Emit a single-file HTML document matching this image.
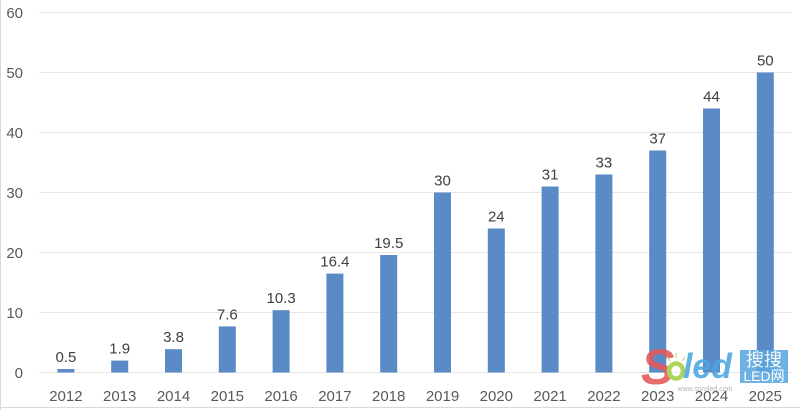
<!DOCTYPE html>
<html><head><meta charset="utf-8"><style>
html,body{margin:0;padding:0;background:#fff;}
svg{display:block;}
text{font-family:"Liberation Sans",sans-serif;}
</style></head><body>
<svg width="800" height="410" viewBox="0 0 800 410" xmlns="http://www.w3.org/2000/svg">
<rect x="0" y="0" width="800" height="410" fill="#fff"/>
<line x1="0.5" y1="0" x2="0.5" y2="410" stroke="#d9d9d9" stroke-width="1"/>
<line x1="0" y1="407.5" x2="800" y2="407.5" stroke="#d9d9d9" stroke-width="1"/>
<g stroke="#e6e6e6" stroke-width="1">
<line x1="39" y1="12.5" x2="792" y2="12.5"/>
<line x1="39" y1="72.5" x2="792" y2="72.5"/>
<line x1="39" y1="132.5" x2="792" y2="132.5"/>
<line x1="39" y1="192.5" x2="792" y2="192.5"/>
<line x1="39" y1="252.5" x2="792" y2="252.5"/>
<line x1="39" y1="312.5" x2="792" y2="312.5"/>
<line x1="39" y1="372.5" x2="792" y2="372.5"/>
</g>
<g fill="#595959" font-size="15" text-anchor="end">
<text x="23" y="18">60</text>
<text x="23" y="78">50</text>
<text x="23" y="138">40</text>
<text x="23" y="198">30</text>
<text x="23" y="258">20</text>
<text x="23" y="318">10</text>
<text x="23" y="378">0</text>
</g>
<g fill="#5a8bc6">
<rect x="57.4" y="369" width="17" height="3.5"/>
<rect x="111.2" y="360.6" width="17" height="11.9"/>
<rect x="165" y="349.2" width="17" height="23.3"/>
<rect x="218.8" y="326.4" width="17" height="46.1"/>
<rect x="272.6" y="310.2" width="17" height="62.3"/>
<rect x="326.4" y="273.6" width="17" height="98.9"/>
<rect x="380.2" y="255" width="17" height="117.5"/>
<rect x="434" y="192.5" width="17" height="180"/>
<rect x="487.8" y="228.5" width="17" height="144"/>
<rect x="541.6" y="186.5" width="17" height="186"/>
<rect x="595.4" y="174.5" width="17" height="198"/>
<rect x="649.2" y="150.5" width="17" height="222"/>
<rect x="703" y="108.5" width="17" height="264"/>
<rect x="756.8" y="72.5" width="17" height="300"/>
</g>
<g fill="#404040" font-size="15" text-anchor="middle">
<text x="65.9" y="362">0.5</text>
<text x="119.7" y="353.6">1.9</text>
<text x="173.5" y="342.2">3.8</text>
<text x="227.3" y="319.4">7.6</text>
<text x="281.1" y="303.2">10.3</text>
<text x="334.9" y="266.6">16.4</text>
<text x="388.7" y="248">19.5</text>
<text x="442.5" y="185.5">30</text>
<text x="496.3" y="221.5">24</text>
<text x="550.1" y="179.5">31</text>
<text x="603.9" y="167.5">33</text>
<text x="657.7" y="143.5">37</text>
<text x="711.5" y="101.5">44</text>
<text x="765.3" y="65.5">50</text>
</g>
<!-- watermark -->
<g opacity="0.88">
<text x="641" y="384" font-size="50" font-style="italic" font-weight="bold" fill="#e35a5a">S</text>
<g stroke="#c8e07a" stroke-width="1.5">
<line x1="676" y1="353" x2="676" y2="358"/>
<line x1="667" y1="357" x2="670" y2="361"/>
<line x1="685" y1="357" x2="682" y2="361"/>
</g>
<ellipse cx="676" cy="371" rx="7" ry="7.5" fill="none" stroke="#a5cf45" stroke-width="4.5"/>
<text x="683" y="378" font-size="35" font-style="italic" font-weight="bold" fill="#4aa6e2" textLength="49" lengthAdjust="spacingAndGlyphs">led</text>
<rect x="740" y="350" width="48" height="33" fill="#5aa8e0"/>
<text x="764" y="366" font-size="18" fill="#fff" text-anchor="middle" font-family="'Liberation Sans','Noto Sans CJK SC',sans-serif">搜搜</text>
<text x="764" y="381" font-size="14" fill="#fff" text-anchor="middle" font-family="'Liberation Sans','Noto Sans CJK SC',sans-serif">LED网</text>
<text x="705" y="391" font-size="7" fill="#aaa" text-anchor="middle">www.soroled.com</text>
</g>
<g fill="#595959" font-size="15" text-anchor="middle">
<text x="65.9" y="401">2012</text>
<text x="119.7" y="401">2013</text>
<text x="173.5" y="401">2014</text>
<text x="227.3" y="401">2015</text>
<text x="281.1" y="401">2016</text>
<text x="334.9" y="401">2017</text>
<text x="388.7" y="401">2018</text>
<text x="442.5" y="401">2019</text>
<text x="496.3" y="401">2020</text>
<text x="550.1" y="401">2021</text>
<text x="603.9" y="401">2022</text>
<text x="657.7" y="401">2023</text>
<text x="711.5" y="401">2024</text>
<text x="765.3" y="401">2025</text>
</g>
</svg>
</body></html>
